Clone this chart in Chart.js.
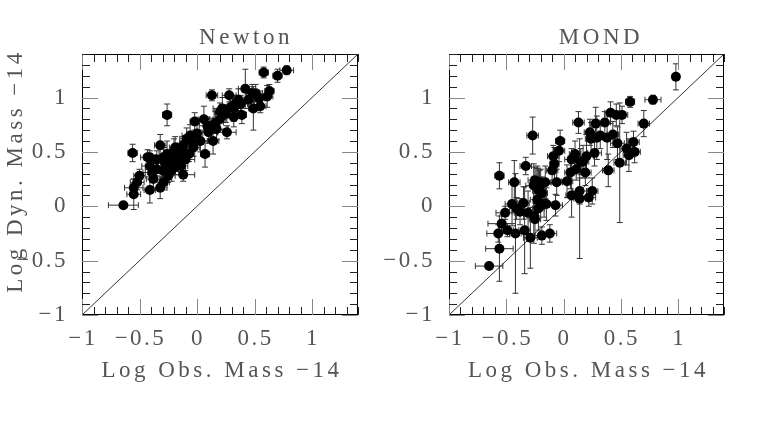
<!DOCTYPE html>
<html>
<head>
<meta charset="utf-8">
<script src="https://cdn.jsdelivr.net/npm/chart.js@4.4.1/dist/chart.umd.min.js"></script>
<style>
  html, body { margin: 0; padding: 0; background: #fff; }
  #wrap { position: relative; width: 757px; height: 432px; }
  .panel { position: absolute; top: 0; }
</style>
</head>
<body>
<div id="wrap">
  <div class="panel" style="left:0"><canvas id="newton" width="378" height="432"></canvas></div>
  <div class="panel" style="left:378px"><canvas id="mond" width="379" height="432"></canvas></div>
</div>
<script>
// axis ticks (labelled) and range
const tickValues = [-1, -0.5, 0, 0.5, 1];
const tickLabels = ["\u22121", "\u22120.5", "0", "0.5", "1"];
const axisMin = -1, axisMax = 1.4;

// one-to-one line
const diagX = [-1, 1.4];
const diagY = [-1, 1.4];

// Newton panel
const newtonX = [-0.64,-0.56,-0.55,-0.55,-0.52,-0.50,-0.43,-0.41,-0.41,-0.41,-0.39,-0.32,-0.32,-0.29,-0.26,-0.35,-0.30,-0.28,-0.26,-0.25,
  -0.23,-0.22,-0.20,-0.19,-0.17,-0.16,-0.14,-0.13,-0.12,-0.12,-0.10,-0.09,-0.07,-0.06,-0.03,-0.02,0.03,0.06,0.07,0.10,
  0.13,0.14,0.16,0.17,0.20,0.22,0.25,0.26,0.28,0.29,0.32,0.36,0.38,0.39,0.42,0.45,0.49,0.51,0.55,0.58,
  0.61,0.63,0.70,0.78,0.20,0.12,0.09,0.00,-0.04,-0.35,-0.38,-0.25,-0.19,-0.26,-0.29,0.54,0.48,0.32,0.33];
const newtonY = [0.01,0.49,0.11,0.17,0.22,0.28,0.45,0.45,0.15,0.37,0.31,0.56,0.17,0.22,0.84,0.34,0.33,0.40,0.48,0.37,
  0.43,0.33,0.50,0.54,0.40,0.46,0.37,0.50,0.29,0.56,0.43,0.62,0.48,0.65,0.54,0.78,0.60,0.80,0.48,0.68,
  1.02,0.60,0.77,0.71,0.80,0.90,0.85,0.68,1.02,0.91,0.90,0.98,0.94,0.84,1.08,0.98,0.90,1.04,0.92,1.23,
  1.01,1.06,1.20,1.25,0.87,0.71,0.74,0.67,0.59,0.43,0.25,0.28,0.36,0.33,0.45,0.99,1.04,0.82,0.94];
const newtonXErr = [0.13,0.04,0.06,0.08,0.06,0.05,0.06,0.05,0.05,0.07,0.08,0.05,0.06,0.05,0.04,0.10,0.08,0.06,0.07,0.05,
  0.10,0.06,0.08,0.05,0.06,0.10,0.06,0.07,0.10,0.05,0.08,0.06,0.05,0.07,0.05,0.04,0.06,0.05,0.04,0.08,
  0.05,0.05,0.07,0.10,0.06,0.08,0.10,0.08,0.06,0.05,0.06,0.05,0.06,0.04,0.06,0.05,0.04,0.06,0.05,0.04,
  0.05,0.04,0.04,0.06,0.05,0.06,0.07,0.05,0.06,0.05,0.06,0.06,0.07,0.05,0.06,0.05,0.05,0.07,0.05];
const newtonYErr = [0.03,0.08,0.14,0.08,0.07,0.06,0.07,0.06,0.12,0.08,0.06,0.10,0.10,0.07,0.10,0.06,0.08,0.09,0.12,0.10,
  0.08,0.10,0.12,0.10,0.08,0.12,0.08,0.10,0.06,0.08,0.10,0.10,0.07,0.10,0.08,0.08,0.10,0.12,0.12,0.10,
  0.05,0.12,0.10,0.10,0.10,0.10,0.08,0.06,0.06,0.10,0.12,0.10,0.08,0.08,0.18,0.08,0.20,0.08,0.06,0.05,
  0.10,0.06,0.06,0.04,0.08,0.10,0.08,0.08,0.07,0.08,0.10,0.06,0.07,0.08,0.09,0.07,0.08,0.09,0.08];

// MOND panel
const mondX = [-0.65,-0.56,-0.56,-0.57,-0.54,-0.51,-0.49,-0.45,-0.43,-0.42,-0.41,-0.38,-0.35,-0.34,-0.33,-0.31,-0.29,-0.27,-0.26,-0.26,
  -0.25,-0.23,-0.22,-0.20,-0.19,-0.23,-0.22,-0.17,-0.19,-0.16,-0.15,-0.12,-0.10,-0.09,-0.08,-0.07,-0.06,-0.04,-0.03,0.03,
  0.06,0.07,0.07,0.10,0.11,0.13,0.14,0.14,0.15,0.17,0.19,0.20,0.22,0.23,0.24,0.25,0.27,0.28,0.29,0.32,
  0.36,0.38,0.39,0.41,0.43,0.46,0.47,0.49,0.51,0.55,0.57,0.58,0.61,0.62,0.70,0.78,0.98,-0.24,-0.21,-0.25];
const mondY = [-0.55,-0.39,0.28,-0.25,-0.16,-0.06,-0.22,0.02,0.22,-0.25,-0.02,-0.05,0.03,-0.22,0.37,-0.06,-0.29,0.65,-0.09,0.19,
  -0.12,0.22,0.15,0.22,0.12,0.06,-0.02,0.02,-0.27,0.22,0.02,-0.25,0.33,0.46,0.39,0.01,0.22,0.51,0.60,0.23,
  0.31,0.10,0.43,0.48,0.34,0.77,0.14,0.07,0.41,0.41,0.31,0.46,0.08,0.68,0.62,0.14,0.49,0.76,0.63,0.65,
  0.77,0.63,0.33,0.86,0.66,0.84,0.58,0.40,0.84,0.53,0.47,0.96,0.59,0.50,0.76,0.98,1.19,0.20,0.18,0.24];
const mondXErr = [0.12,0.12,0.04,0.10,0.12,0.08,0.05,0.06,0.05,0.05,0.06,0.07,0.05,0.05,0.05,0.08,0.06,0.05,0.06,0.07,
  0.05,0.06,0.05,0.06,0.05,0.06,0.05,0.07,0.06,0.05,0.06,0.06,0.05,0.05,0.04,0.06,0.05,0.05,0.04,0.05,
  0.05,0.05,0.06,0.05,0.05,0.05,0.06,0.05,0.05,0.05,0.05,0.06,0.06,0.05,0.05,0.05,0.06,0.05,0.05,0.06,
  0.05,0.06,0.05,0.05,0.05,0.05,0.06,0.05,0.05,0.05,0.05,0.04,0.05,0.05,0.05,0.07,0.03,0.06,0.05,0.06];
const mondYErr = [0.03,0.30,0.12,0.08,0.08,0.06,0.06,0.20,0.20,0.55,0.10,0.12,0.15,0.40,0.08,0.20,0.28,0.17,0.25,0.20,
  0.15,0.15,0.20,0.12,0.15,0.18,0.20,0.12,0.08,0.15,0.15,0.08,0.12,0.10,0.15,0.10,0.12,0.10,0.10,0.15,
  0.15,0.20,0.10,0.12,0.10,0.10,0.12,0.55,0.12,0.15,0.12,0.20,0.08,0.12,0.15,0.12,0.12,0.15,0.20,0.12,
  0.10,0.20,0.15,0.10,0.12,0.10,0.15,0.55,0.08,0.15,0.15,0.05,0.10,0.10,0.12,0.04,0.12,0.15,0.15,0.12];

const textFont = '23px "Liberation Serif"';
const textColor = '#555';

function toPoints(xs, ys) {
  return xs.map((v, i) => ({ x: v, y: ys[i] }));
}

// draws error bars under the points, from the chart's own scales
const errorBars = {
  id: 'errorBars',
  beforeDatasetsDraw(chart, args, opts) {
    const { ctx, chartArea: a, scales: { x, y } } = chart;
    const cap = 3;
    ctx.save();
    ctx.beginPath();
    ctx.rect(a.left, a.top, a.right - a.left, a.bottom - a.top);
    ctx.clip();
    ctx.strokeStyle = '#333';
    ctx.lineWidth = 1;
    opts.xs.forEach((xv, i) => {
      const yv = opts.ys[i];
      const px = x.getPixelForValue(xv), py = y.getPixelForValue(yv);
      const x0 = x.getPixelForValue(xv - opts.xerr[i]), x1 = x.getPixelForValue(xv + opts.xerr[i]);
      const y0 = y.getPixelForValue(yv - opts.yerr[i]), y1 = y.getPixelForValue(yv + opts.yerr[i]);
      ctx.beginPath();
      ctx.moveTo(x0, py); ctx.lineTo(x1, py);
      ctx.moveTo(x0, py - cap); ctx.lineTo(x0, py + cap);
      ctx.moveTo(x1, py - cap); ctx.lineTo(x1, py + cap);
      ctx.moveTo(px, y0); ctx.lineTo(px, y1);
      ctx.moveTo(px - cap, y0); ctx.lineTo(px + cap, y0);
      ctx.moveTo(px - cap, y1); ctx.lineTo(px + cap, y1);
      ctx.stroke();
    });
    ctx.restore();
  }
};

// box, inward ticks on all sides, labels and titles
const frame = {
  id: 'frame',
  afterDraw(chart, args, opts) {
    const { ctx, chartArea: a, scales: { x, y } } = chart;
    ctx.save();
    ctx.strokeStyle = '#000';
    ctx.lineWidth = 1;
    ctx.strokeRect(Math.round(a.left) + 0.5, Math.round(a.top) + 0.5,
      Math.round(a.right - a.left) - 1, Math.round(a.bottom - a.top) - 1);

    for (let k = -10; k <= 14; k++) {
      const v = k / 10;
      const major = k % 5 === 0;
      const len = major ? 16 : 8;
      ctx.strokeStyle = major ? '#888' : '#222';
      const px = Math.round(x.getPixelForValue(v)) + 0.5;
      const py = Math.round(y.getPixelForValue(v)) + 0.5;
      ctx.beginPath();
      ctx.moveTo(px, a.bottom); ctx.lineTo(px, a.bottom - len);
      ctx.moveTo(px, a.top); ctx.lineTo(px, a.top + len);
      ctx.moveTo(a.left, py); ctx.lineTo(a.left + len, py);
      ctx.moveTo(a.right, py); ctx.lineTo(a.right - len, py);
      ctx.stroke();
    }

    ctx.fillStyle = textColor;
    ctx.font = textFont;
    ctx.letterSpacing = '2.5px';
    ctx.textBaseline = 'middle';
    tickValues.forEach((v, i) => {
      ctx.textAlign = 'center';
      ctx.fillText(tickLabels[i], x.getPixelForValue(v) + 1, 339);
      ctx.textAlign = 'right';
      ctx.fillText(tickLabels[i], a.left - 14, y.getPixelForValue(v));
    });

    ctx.letterSpacing = '3.5px';
    ctx.textAlign = 'center';
    ctx.fillText(opts.title, opts.titleX, 38);
    ctx.fillText('Log Obs. Mass \u221214', (a.left + a.right) / 2 + 2, 371);
    if (opts.yTitle) {
      ctx.translate(16, 171);
      ctx.rotate(-Math.PI / 2);
      ctx.fillText(opts.yTitle, 0, 0);
    }
    ctx.restore();
  }
};

function makePanel(id, title, titleX, yTitle, xs, ys, xerr, yerr, pad) {
  new Chart(document.getElementById(id), {
    type: 'scatter',
    data: {
      datasets: [
        {
          data: toPoints(xs, ys),
          pointRadius: 5,
          pointBackgroundColor: '#000',
          pointBorderWidth: 0
        },
        {
          data: toPoints(diagX, diagY),
          showLine: true,
          borderColor: '#000',
          borderWidth: 0.8,
          pointRadius: 0
        }
      ]
    },
    options: {
      responsive: false,
      animation: false,
      layout: { padding: pad },
      scales: {
        x: { type: 'linear', min: axisMin, max: axisMax, display: false },
        y: { type: 'linear', min: axisMin, max: axisMax, display: false }
      },
      plugins: {
        legend: { display: false },
        tooltip: { enabled: false },
        errorBars: { xs: xs, ys: ys, xerr: xerr, yerr: yerr },
        frame: { title: title, titleX: titleX, yTitle: yTitle }
      }
    },
    plugins: [errorBars, frame]
  });
}

makePanel('newton', 'Newton', 246, 'Log Dyn. Mass \u221214',
  newtonX, newtonY, newtonXErr, newtonYErr,
  { left: 82, right: 20, top: 54, bottom: 117 });
makePanel('mond', 'MOND', 223, null,
  mondX, mondY, mondXErr, mondYErr,
  { left: 71, right: 33, top: 54, bottom: 117 });
</script>
</body>
</html>
